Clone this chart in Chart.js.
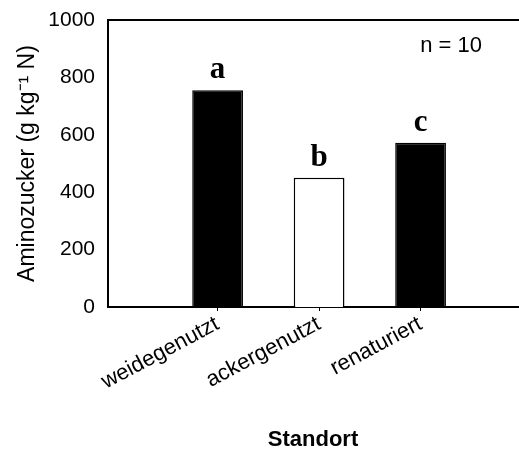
<!DOCTYPE html>
<html><head><meta charset="utf-8">
<script src="https://cdn.jsdelivr.net/npm/chart.js@4"></script>
<style>html,body{margin:0;padding:0;background:#fff;overflow:hidden}</style>
</head><body>
<canvas id="c" width="519" height="457"></canvas>
<script>
const categories = ['weidegenutzt', 'ackergenutzt', 'renaturiert'];
const values = [755, 450, 572];
const letters = ['a', 'b', 'c'];
const fills = ['#000000', '#ffffff', '#000000'];
const yTicks = [0, 200, 400, 600, 800, 1000];
const sampleNote = 'n = 10';
const yTitle = 'Aminozucker (g kg\u207B\u00B9 N)';
const xTitle = 'Standort';

const SANS = '"Liberation Sans", Arial, sans-serif';
Chart.defaults.color = '#000';
Chart.defaults.font.family = SANS;

const letterPlugin = {
  id: 'letters',
  afterDatasetsDraw(chart) {
    const ctx = chart.ctx;
    const meta = chart.getDatasetMeta(0);
    ctx.save();
    ctx.fillStyle = '#000';
    ctx.font = 'bold 31px "Liberation Serif", serif';
    ctx.textAlign = 'center';
    ctx.textBaseline = 'alphabetic';
    meta.data.forEach((el, i) => ctx.fillText(letters[i], el.x, el.y - 12));
    ctx.font = '22px ' + SANS;
    ctx.textAlign = 'right';
    ctx.textBaseline = 'middle';
    const a = chart.chartArea;
    ctx.fillText(sampleNote, a.right - 36, a.top + 26);
    ctx.restore();
  }
};

new Chart(document.getElementById('c'), {
  type: 'bar',
  data: {
    datasets: [{
      data: values.map((v, i) => ({ x: i + 1, y: v })),
      backgroundColor: fills,
      borderColor: '#000',
      borderWidth: 1.5,
      barPercentage: 0.5,
      categoryPercentage: 1
    }]
  },
  options: {
    responsive: false,
    animation: false,
    layout: { padding: { top: 20, right: 1, left: 0, bottom: 0 } },
    plugins: { legend: { display: false }, tooltip: { enabled: false } },
    scales: {
      x: {
        type: 'linear', min: -0.08, max: 3.96, offset: false,
        afterBuildTicks: s => { s.ticks = categories.map((c, i) => ({ value: i + 1 })); },
        ticks: { callback: v => categories[v - 1] || '', maxRotation: 28, minRotation: 28, autoSkip: false, font: { size: 22 }, padding: 0 },
        grid: { display: true, offset: false, drawOnChartArea: false, drawTicks: true, tickLength: 4, color: '#000', lineWidth: 1 },
        border: { display: true, color: '#000', width: 2 },
        title: { display: true, text: xTitle, font: { size: 22, weight: 'bold' }, padding: { top: 0, bottom: 4 } },
        afterFit: s => { s.height = 150; s.paddingLeft = 0; s.paddingRight = 0; }
      },
      x2: {
        type: 'linear', position: 'top', min: -0.08, max: 3.96, offset: false,
        ticks: { display: false },
        grid: { display: false, drawTicks: false },
        border: { display: true, color: '#000', width: 2 },
        afterFit: s => { s.height = 0; s.paddingLeft = 0; s.paddingRight = 0; }
      },
      y: {
        min: 0, max: 1000,
        afterBuildTicks: s => { s.ticks = yTicks.map(v => ({ value: v })); },
        ticks: { font: { size: 21 }, padding: 13, callback: v => String(v) },
        grid: { display: false, drawTicks: false },
        border: { display: true, color: '#000', width: 2 },
        title: { display: true, text: yTitle, font: { size: 23 }, padding: { top: 14, bottom: 0 } },
        afterFit: s => { s.width = 108; s.paddingTop = 0; s.paddingBottom = 0; }
      }
    }
  },
  plugins: [letterPlugin]
});
</script>
</body></html>
